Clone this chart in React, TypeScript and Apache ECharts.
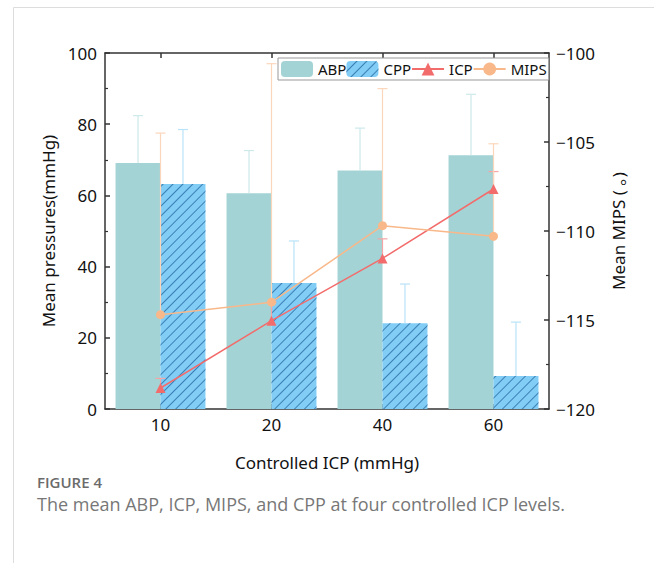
import React, { useEffect, useRef } from "react";
import * as echarts from "echarts";

const categories = ["10", "20", "40", "60"];
const abpValues = [69.1, 60.6, 67.0, 71.3];
const abpErrors = [13.3, 12.0, 11.9, 17.1];
const cppValues = [63.2, 35.4, 24.1, 9.3];
const cppErrors = [15.3, 11.8, 11.0, 15.1];
const icpValues = [5.9, 24.8, 42.3, 61.8];
const icpErrors = [2.7, 5.2, 5.5, 4.9];
const mipsValues = [-114.7, -114.0, -109.7, -110.3];
const mipsErrors = [10.2, 13.4, 7.7, 5.2];
const leftTicks = { min: 0, max: 100, interval: 20 };
const rightTicks = { min: -120, max: -100, interval: 5 };

const FONT = "'Noto Sans', 'Noto Sans CJK SC', sans-serif";
const BAR_CAT_GAP = 0.19;

function errorSeries(
  name: string,
  values: number[],
  errors: number[],
  color: string,
  slot: number, // -1 left bar, 0 center, 1 right bar
  yAxisIndex: number
) {
  return {
    type: "custom",
    name,
    yAxisIndex,
    silent: true,
    z: 3,
    data: values.map((v, i) => [i, v, errors[i]]),
    renderItem: (params: any, api: any) => {
      const idx = api.value(0);
      const val = api.value(1);
      const err = api.value(2);
      const bw = api.size([1, 0])[0];
      const barW = (bw * (1 - BAR_CAT_GAP)) / 2;
      const off = (slot * barW) / 2;
      const p0 = api.coord([idx, val]);
      const p1 = api.coord([idx, val + err]);
      const x = p0[0] + off;
      const cap = 5;
      return {
        type: "group",
        children: [
          {
            type: "line",
            shape: { x1: x, y1: p0[1], x2: x, y2: p1[1] },
            style: { stroke: color, lineWidth: 1.2 },
          },
          {
            type: "line",
            shape: { x1: x - cap, y1: p1[1], x2: x + cap, y2: p1[1] },
            style: { stroke: color, lineWidth: 1.2 },
          },
        ],
      };
    },
  };
}

export default function App() {
  const ref = useRef<HTMLDivElement>(null);
  useEffect(() => {
    if (!ref.current) return;
    const chart = echarts.init(ref.current, undefined, { renderer: "svg" });
    const axisLine = { show: true, lineStyle: { color: "#333", width: 1.5 } };
    const minus = (v: number) => String(v).replace("-", "\u2212");
    chart.setOption({
      animation: false,
      backgroundColor: "#fff",
      textStyle: { fontFamily: FONT },
      grid: { left: 105, right: 105, top: 53, bottom: 154, containLabel: false },
      legend: {
        left: 278,
        top: 58,
        orient: "horizontal",
        itemWidth: 32,
        itemHeight: 16,
        itemGap: 0,
        padding: [3, 2, 3, 3],
        borderColor: "#999",
        borderWidth: 1,
        backgroundColor: "#fff",
        textStyle: { fontSize: 15, color: "#111", fontFamily: FONT },
        data: ["ABP", "CPP", "ICP", "MIPS"],
      },
      xAxis: [
        {
          type: "category",
          data: categories,
          position: "bottom",
          axisLine,
          axisTick: { show: true, inside: true, alignWithLabel: true, length: 5, lineStyle: { color: "#333", width: 1.5 } },
          axisLabel: { fontSize: 17, color: "#111", margin: 7 },
          name: "Controlled ICP (mmHg)",
          nameLocation: "middle",
          nameGap: 45,
          nameTextStyle: { fontSize: 17, color: "#111" },
        },
        {
          type: "category",
          data: categories,
          position: "top",
          axisLine,
          axisTick: { show: true, inside: true, alignWithLabel: true, length: 5, lineStyle: { color: "#333", width: 1.5 } },
          axisLabel: { show: false },
        },
      ],
      yAxis: [
        {
          type: "value",
          position: "left",
          min: leftTicks.min,
          max: leftTicks.max,
          interval: leftTicks.interval,
          axisLine,
          splitLine: { show: false },
          axisTick: { show: true, inside: true, length: 5, lineStyle: { color: "#333", width: 1.5 } },
          minorTick: { show: true, splitNumber: 2, length: 3, lineStyle: { color: "#333", width: 1.2 } },
          axisLabel: { fontSize: 17, color: "#111", margin: 8 },
          name: "Mean pressures(mmHg)",
          nameLocation: "middle",
          nameGap: 47,
          nameTextStyle: { fontSize: 17, color: "#111" },
        },
        {
          type: "value",
          position: "right",
          min: rightTicks.min,
          max: rightTicks.max,
          interval: rightTicks.interval,
          axisLine,
          splitLine: { show: false },
          axisTick: { show: true, inside: true, length: 5, lineStyle: { color: "#333", width: 1.5 } },
          minorTick: { show: true, splitNumber: 2, length: 3, lineStyle: { color: "#333", width: 1.2 } },
          axisLabel: { fontSize: 17, color: "#111", margin: 7, formatter: minus },
          name: "Mean MIPS ( \u3002)",
          nameLocation: "middle",
          nameGap: 61,
          nameRotate: 90,
          nameTextStyle: { fontSize: 17, color: "#111" },
        },
      ],
      series: [
        {
          type: "bar",
          name: "ABP",
          data: abpValues,
          barGap: "0%",
          barCategoryGap: BAR_CAT_GAP * 100 + "%",
          itemStyle: { color: "#a3d3d4" },
          z: 2,
        },
        {
          type: "bar",
          name: "CPP",
          data: cppValues,
          itemStyle: {
            color: "#82cdf6",
            decal: {
              symbol: "rect",
              symbolSize: 1,
              dashArrayX: [1, 0],
              dashArrayY: [1, 6],
              rotation: -Math.PI / 4,
              color: "#3a7fb5",
            },
          },
          z: 2,
        },
        errorSeries("ABP err", abpValues, abpErrors, "#cde9ea", -1, 0),
        errorSeries("CPP err", cppValues, cppErrors, "#b9e3f8", 1, 0),
        errorSeries("ICP err", icpValues, icpErrors, "#f5a5a5", 0, 0),
        errorSeries("MIPS err", mipsValues, mipsErrors, "#fcd6bb", 0, 1),
        {
          type: "line",
          name: "ICP",
          data: icpValues,
          yAxisIndex: 0,
          symbol: "triangle",
          symbolSize: 10,
          lineStyle: { color: "#f36c6c", width: 1.5 },
          itemStyle: { color: "#f36c6c" },
          z: 5,
        },
        {
          type: "line",
          name: "MIPS",
          data: mipsValues,
          yAxisIndex: 1,
          symbol: "circle",
          symbolSize: 9,
          lineStyle: { color: "#f9b88a", width: 1.5 },
          itemStyle: { color: "#f9b88a" },
          z: 5,
        },
      ],
      graphic: [
        { type: "line", shape: { x1: 13.5, y1: 7.5, x2: 654, y2: 7.5 }, style: { stroke: "#ddd", lineWidth: 1 } },
        { type: "line", shape: { x1: 13.5, y1: 7.5, x2: 13.5, y2: 563 }, style: { stroke: "#ddd", lineWidth: 1 } },
        {
          type: "text",
          left: 37,
          top: 474,
          style: {
            text: "FIGURE 4",
            fontSize: 15,
            lineHeight: 15,
            fontWeight: 600,
            fill: "#6b6b6b",
            fontFamily: "'Open Sans', sans-serif",
          },
        },
        {
          type: "text",
          left: 37,
          top: 495,
          style: {
            text: "The mean ABP, ICP, MIPS, and CPP at four controlled ICP levels.",
            fontSize: 18,
            lineHeight: 18,
            fill: "#777",
            fontFamily: "'Open Sans', sans-serif",
          },
        },
      ],
    });
    return () => chart.dispose();
  }, []);
  return (
    <div
      ref={ref}
      style={{ position: "fixed", left: 0, top: 0, width: 654, height: 563, background: "#fff" }}
    />
  );
}
